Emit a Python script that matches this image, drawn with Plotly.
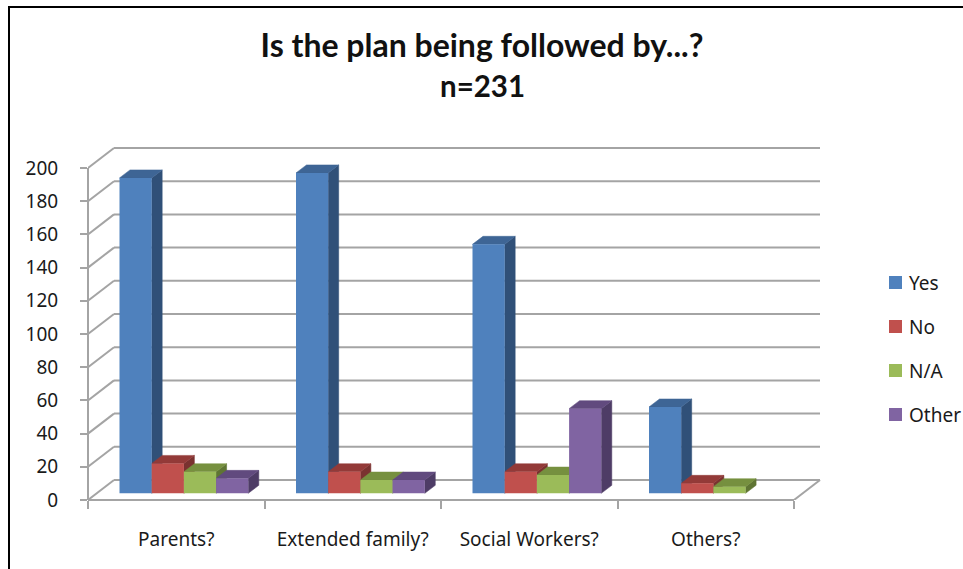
import plotly.graph_objects as go

# Survey results
categories = ["Parents?", "Extended family?", "Social Workers?", "Others?"]
yes_values = [190, 193, 150, 52]
no_values = [18, 13, 13, 6]
na_values = [13, 8, 11, 4]
other_values = [9, 8, 51, 0]
series_names = ["Yes", "No", "N/A", "Other"]
y_ticks = list(range(0, 201, 20))

FONT = "Noto Sans"
TEXT = "#1a1a1a"
GRID = "#a4a4a4"

front = ["#4F81BD", "#C0504D", "#9BBB59", "#8064A2"]
top = ["#3E6595", "#933A38", "#76903F", "#614A7E"]
side = ["#305078", "#7A3230", "#5F7533", "#4E3C66"]

# Plot area placement, in page pixels
W, H = 963, 569
L, R, T, B = 88, 830, 140, 500
PX_PER_CAT = 176.5
PX_PER_UNIT = 1.66

# Oblique projection offsets expressed in axis units
wall_dx, wall_dy = 26 / PX_PER_CAT, 20 / PX_PER_UNIT
bar_dx, bar_dy = 10.5 / PX_PER_CAT, 8 / PX_PER_UNIT
bar_w = 32.2 / PX_PER_CAT
bar_gap = 31.5 / PX_PER_CAT
lift = 6.7 / PX_PER_UNIT


def px(x):
    return (x - L) / (R - L)


def py(y):
    return (B - y) / (B - T)


def line(x0, y0, x1, y1, color=GRID, width=2, layer="below"):
    return dict(type="line", xref="x", yref="y", x0=x0, y0=y0, x1=x1, y1=y1,
                layer=layer, line=dict(color=color, width=width))


def poly(points, color):
    path = "M" + " L".join(f"{a},{b}" for a, b in points) + " Z"
    return dict(type="path", xref="x", yref="y", path=path, layer="below",
                fillcolor=color, line=dict(color=color, width=0.5))


n_cat = len(categories)
shapes = []

# Back wall gridlines and the slanted lines on the side wall
for v in y_ticks:
    shapes.append(line(wall_dx, v + wall_dy, n_cat + wall_dx, v + wall_dy))
    shapes.append(line(0, v, wall_dx, v + wall_dy))

# Front vertical edge of the side wall, from 0 up to the last tick
shapes.append(dict(type="line", xref="paper", yref="y", x0=0, x1=0, y0=0, y1=max(y_ticks),
                   layer="below", line=dict(color=GRID, width=2)))

# Floor: right slant and the front edge on the baseline
shapes.append(line(n_cat, 0, n_cat + wall_dx, wall_dy))
shapes.append(dict(type="line", xref="x", yref="paper", x0=0, x1=n_cat, y0=0, y1=0,
                   layer="below", line=dict(color=GRID, width=2)))

series = [yes_values, no_values, na_values, other_values]
fig = go.Figure()

for j, (name, values) in enumerate(zip(series_names, series)):
    xs, ys = [], []
    for i, v in enumerate(values):
        if v <= 0:
            continue
        x0 = i + bar_gap + j * bar_w
        x1 = x0 + bar_w
        # depth faces of the column, derived from its value
        shapes.append(poly([(x1, lift), (x1 + bar_dx, lift + bar_dy),
                            (x1 + bar_dx, lift + v + bar_dy), (x1, lift + v)], side[j]))
        shapes.append(poly([(x0, lift + v), (x0 + bar_dx, lift + v + bar_dy),
                            (x1 + bar_dx, lift + v + bar_dy), (x1, lift + v)], top[j]))
        xs.append(x0 + bar_w / 2)
        ys.append(v)
    fig.add_trace(go.Bar(x=xs, y=ys, base=lift, width=bar_w, name=name,
                         marker=dict(color=front[j], line=dict(width=0)),
                         showlegend=False))

# Chart frame
shapes.append(dict(type="line", xref="paper", yref="paper", x0=px(9), x1=px(9), y0=py(7), y1=py(569),
                   layer="above", line=dict(color="black", width=2)))
shapes.append(dict(type="line", xref="paper", yref="paper", x0=px(8), x1=px(963), y0=py(7), y1=py(7),
                   layer="above", line=dict(color="black", width=2)))

annotations = [dict(text="n=231", xref="paper", yref="paper", x=px(482), y=py(85),
                    xanchor="center", yanchor="middle", showarrow=False,
                    font=dict(family="Lato", size=29.5, color="#111111", weight="bold"))]

# Key to the series
legend_rows = [283, 327, 371, 415]
for name, color, row in zip(series_names, front, legend_rows):
    shapes.append(dict(type="rect", xref="paper", yref="paper", x0=px(889), x1=px(902),
                       y0=py(row - 7), y1=py(row + 6), layer="above",
                       fillcolor=color, line=dict(width=0)))
    annotations.append(dict(text=name, xref="paper", yref="paper", x=px(907), y=py(row),
                            xanchor="left", yanchor="middle", showarrow=False,
                            font=dict(family=FONT, size=19, color=TEXT)))

fig.update_layout(
    width=W, height=H,
    margin=dict(l=L, r=W - R, t=T, b=H - B, autoexpand=False),
    paper_bgcolor="white", plot_bgcolor="rgba(0,0,0,0)",
    barmode="overlay", showlegend=False,
    title=dict(text="Is the plan being followed by...?", x=482 / W, xanchor="center",
               y=1 - 46 / H, yanchor="middle",
               font=dict(family="Lato", size=32, color="#111111", weight="bold")),
    shapes=shapes, annotations=annotations,
    xaxis=dict(range=[0, (R - L) / PX_PER_CAT], showgrid=False, zeroline=False, showline=False,
               tickmode="array", tickvals=[i + 0.5 for i in range(n_cat)], ticktext=categories,
               ticks="", ticklabelstandoff=26,
               minor=dict(tickmode="array", tickvals=list(range(n_cat + 1)), ticks="outside",
                          ticklen=8, tickwidth=2, tickcolor=GRID, showgrid=False),
               tickfont=dict(family=FONT, size=19, color=TEXT)),
    yaxis=dict(range=[0, (B - T) / PX_PER_UNIT], showgrid=False, zeroline=False, showline=False,
               tickmode="array", tickvals=y_ticks,
               ticks="outside", ticklen=7, tickwidth=2, tickcolor=GRID, ticklabelstandoff=18,
               tickfont=dict(family=FONT, size=19, color=TEXT)),
)

fig.write_html("out.html", config=dict(displayModeBar=False))
